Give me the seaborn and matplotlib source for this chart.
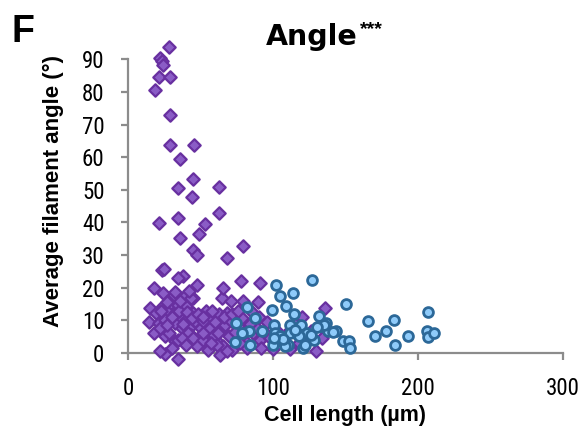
import numpy as np
import pandas as pd
import matplotlib
matplotlib.use("Agg")
import matplotlib.pyplot as plt
from matplotlib import font_manager
import seaborn as sns

# ---- data ----
purple_x = [28.3, 22.4, 23.5, 24.4, 21.3, 29.0, 18.8, 28.8, 28.8, 45.5, 35.7, 34.7, 63.0, 44.9, 43.9,
            62.7, 21.1, 53.2, 34.2, 49.1, 35.7, 44.9, 47.6, 68.6, 79.2, 23.7, 25.0, 37.8, 34.7, 77.6, 91.3,
            15.4, 14.6, 19.3, 21.3, 24.4, 25.7, 28.3, 29.6, 32.1, 32.1, 34.7, 36.0, 37.3, 25.7, 32.1, 34.7,
            39.8, 39.8, 42.4, 43.7, 45.0, 46.3, 47.6, 50.0, 51.4, 54.0, 54.0, 55.3, 56.6, 57.8, 60.4, 63.0,
            64.3, 65.6, 66.8, 68.1, 69.4, 70.7, 71.9, 75.8, 78.4, 81.0, 82.3, 86.1, 88.7, 91.3, 94.3, 100.3,
            106.7, 111.8, 124.7, 129.8, 133.7, 126.0, 18.0, 21.9, 28.3, 41.1, 37.3, 45.0, 51.4, 59.1, 61.7,
            51.4, 31.4, 39.1, 45.0, 43.7, 65.0, 70.7, 79.4, 89.5, 136.0, 25.4, 34.2, 22.4, 30.0, 63.5, 68.1,
            17.7, 24.4, 32.1, 47.5, 41.9, 65.6, 23.0, 27.0, 30.0, 35.0, 38.0, 41.0, 44.0, 48.0, 52.0, 58.0,
            60.0, 62.0, 66.0, 72.0, 74.0, 76.0, 80.0, 84.0, 90.0, 96.0, 102.0, 108.0, 115.0, 118.0, 120.0,
            85.0, 36.0, 27.0, 40.0, 57.0, 77.0, 92.0, 98.0, 112.0]
purple_y = [93.8, 90.5, 89.5, 88.4, 84.7, 84.7, 80.6, 73.0, 63.7, 63.7, 59.5, 50.6, 50.9, 53.2, 47.8,
            42.9, 39.9, 39.4, 41.4, 36.5, 35.3, 31.7, 29.9, 29.1, 32.9, 25.4, 25.8, 23.7, 23.0, 22.2, 21.5,
            13.8, 9.4, 12.3, 9.2, 14.3, 10.2, 12.8, 15.3, 12.3, 9.2, 14.8, 11.2, 7.7, 5.1, 3.6, 4.1,
            14.3, 10.2, 7.7, 5.6, 12.3, 9.7, 2.0, 7.7, 9.7, 6.1, 12.8, 1.0, 7.7, 10.7, 4.1, 11.8,
            7.2, 2.0, 8.7, 12.3, 5.1, 9.9, 1.0, 8.2, 10.7, 3.6, 1.5, 6.1, 7.7, 4.1, 6.1, 1.2,
            3.1, 1.2, 5.1, 0.5, 4.6, 6.6, 6.1, 7.7, 6.1, 6.1, 4.6, 4.6, 4.1, 5.6, 2.6,
            6.1, 17.9, 17.4, 16.9, 16.9, 16.9, 15.8, 15.8, 15.7, 13.8, -0.4, -1.8, 0.5, 1.5, -0.5, 0.5,
            19.9, 18.4, 18.8, 20.7, 18.9, 19.8, 13.0, 8.5, 11.0, 13.0, 9.0, 12.5, 10.8, 12.0, 11.0, 13.0,
            9.5, 6.0, 11.0, 12.0, 6.5, 13.0, 6.0, 9.0, 11.0, 9.5, 7.0, 5.0, 9.0, 3.0, 11.0,
            13.0, 16.0, 15.5, 2.5, 3.0, 3.0, 1.5, 4.5, 7.0]

blue_x = [74.8, 73.5, 82.3, 87.4, 83.3, 78.4, 84.1, 92.5, 99.0, 102.3, 104.6, 100.8, 101.5, 99.7, 104.6,
          109.3, 114.4, 113.9, 111.8, 110.5, 116.9, 119.5, 120.8, 123.4, 127.2, 128.5, 131.6, 132.9, 136.8,
          137.6, 143.2, 148.3, 150.4, 152.2, 153.0, 165.8, 170.4, 177.9, 183.3, 184.3, 193.3, 206.9, 206.4,
          206.9, 210.8, 111.8, 116.9, 122.0, 108.0, 117.6, 107.0, 101.0, 115.0, 126.0, 135.0, 130.5, 141.6]
blue_y = [9.2, 3.3, 14.1, 10.7, 6.6, 6.1, 2.6, 6.6, 13.3, 20.7, 17.6, 8.7, 6.1, 2.6, 5.1,
          14.5, 11.8, 18.4, 8.7, 2.6, 7.2, 8.7, 1.5, 6.1, 22.5, 4.1, 11.2, 8.2, 9.2,
          6.8, 6.6, 3.6, 15.1, 3.6, 1.5, 9.9, 5.1, 6.6, 10.0, 2.6, 5.1, 12.6, 6.6,
          4.9, 6.1, 6.1, 5.6, 2.6, 2.0, 5.3, 4.3, 4.6, 7.2, 5.5, 8.5, 8.0, 6.5]

x_ticks = [0, 100, 200, 300]
y_ticks = [0, 10, 20, 30, 40, 50, 60, 70, 80, 90]

purple_df = pd.DataFrame({"length": purple_x, "angle": purple_y})
blue_df = pd.DataFrame({"length": blue_x, "angle": blue_y})

sns.set_theme(style="white")
plt.rcParams["font.family"] = ["Liberation Sans", "DejaVu Sans"]
plt.rcParams["text.color"] = "black"
plt.rcParams["axes.labelcolor"] = "black"


def pick_narrow():
    fl = font_manager.fontManager.ttflist
    for f in fl:
        if f.name == "Liberation Sans Narrow" and f.weight in (400, "normal", "regular") and f.style == "normal":
            return f
    cands = []
    for f in fl:
        st = str(f.stretch)
        nm = f.name
        if ("Narrow" in nm or "Condensed" in nm or st in ("condensed", "semi-condensed", "625", "750")) \
                and f.style == "normal" and f.weight in (400, "normal", "regular"):
            cands.append(f)
    pref = ["Liberation", "Arimo", "Roboto", "Noto Sans", "Open Sans", "DejaVu"]
    for p in pref:
        for f in cands:
            if f.name.startswith(p) and "Mono" not in f.name and "Serif" not in f.name:
                return f
    return cands[0] if cands else None


nf = pick_narrow()
if nf is not None:
    tick_fp = font_manager.FontProperties(fname=nf.fname, size=16.5)
else:
    tick_fp = font_manager.FontProperties(family=["Liberation Sans"], size=16.5)

fig = plt.figure(figsize=(5.83, 4.32), dpi=100)
ax = fig.add_axes([128 / 583, 1 - 353 / 432, 435 / 583, (353 - 59.3) / 432])

sns.scatterplot(data=purple_df, x="length", y="angle", ax=ax, marker="D", s=40,
                color="#8a5cc6", edgecolor="#6830a0", linewidth=1.6, clip_on=False,
                zorder=3, legend=False)
sns.scatterplot(data=blue_df, x="length", y="angle", ax=ax, marker="o", s=50,
                color="#8fcbfa", edgecolor="#2c6898", linewidth=2.0, clip_on=False,
                zorder=4, legend=False)

ax.set_xlim(0, 300)
ax.set_ylim(0, 90)
ax.set_xticks(x_ticks)
ax.set_yticks(y_ticks)
ax.set_xticklabels([str(v) for v in x_ticks])
ax.set_yticklabels([str(v) for v in y_ticks])

for lab in ax.get_xticklabels() + ax.get_yticklabels():
    lab.set_fontproperties(tick_fp)
    lab.set_color("black")

for side in ["top", "right"]:
    ax.spines[side].set_visible(False)
for side in ["left", "bottom"]:
    ax.spines[side].set_color("#8c8c8c")
    ax.spines[side].set_linewidth(1.6)
ax.tick_params(axis="both", which="major", direction="out", length=5, width=1.6,
               color="#8c8c8c", pad=12, bottom=True, left=True)
ax.grid(False)

ax.set_xlabel("Cell length (µm)", fontsize=15.5, fontweight="bold", labelpad=4, color="black")
ax.set_ylabel("Average filament angle (°)", fontsize=16, fontweight="bold", color="black")
ax.yaxis.set_label_coords(-0.147, 0.553)

fig.text(12 / 583, 1 - 42 / 432, "F", fontsize=27, fontweight="bold",
         ha="left", va="baseline", color="black")
fig.text(266 / 583, 1 - 45 / 432, "Angle", fontsize=20.5, fontweight="bold",
         family=["DejaVu Sans"], ha="left", va="baseline", color="black")
fig.text(360 / 583, 1 - 21 / 432, "***", fontsize=14, fontweight="bold",
         ha="left", va="top", color="black")

fig.savefig("out.png", dpi=100)
